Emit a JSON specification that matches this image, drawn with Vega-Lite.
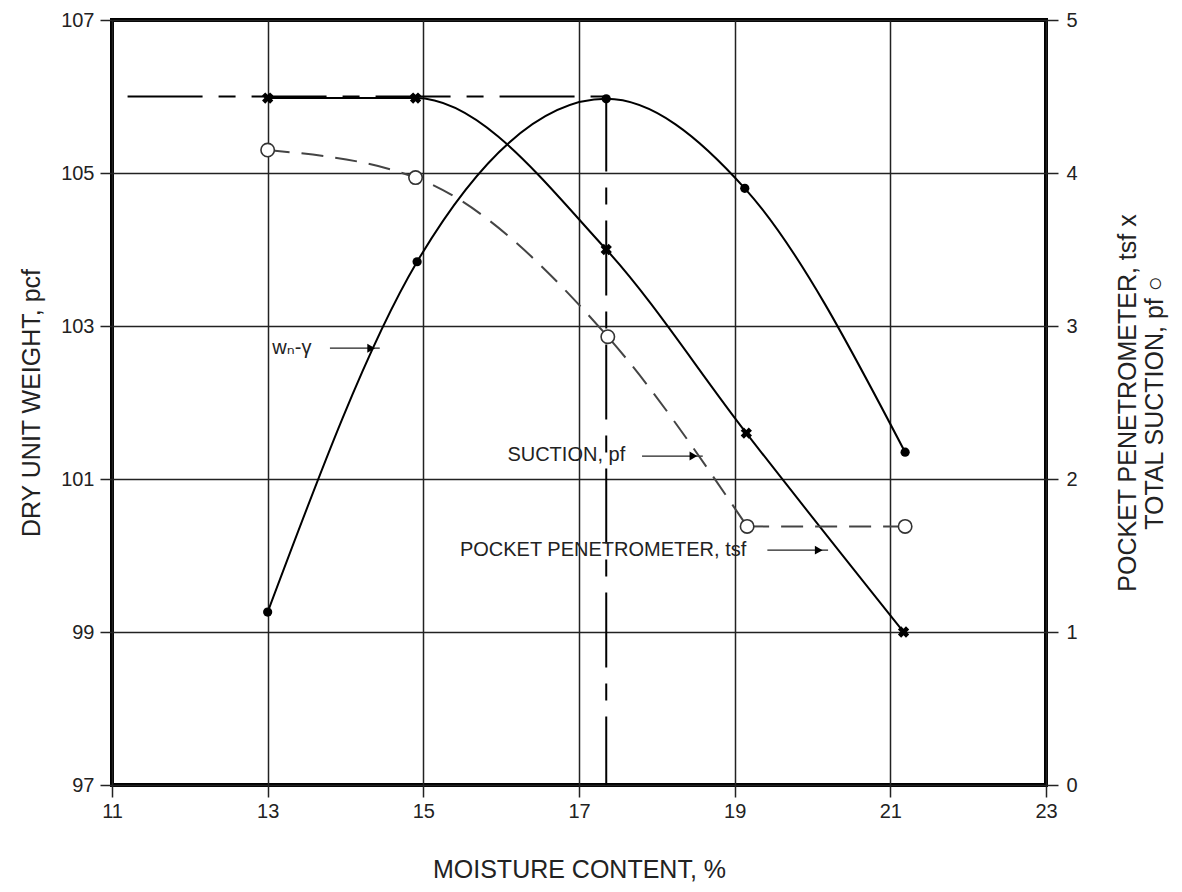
{
  "$schema": "https://vega.github.io/schema/vega-lite/v6.json",
  "width": 934,
  "height": 765,
  "autosize": {"type": "none"},
  "padding": {"left": 112, "top": 20, "right": 136, "bottom": 107},
  "background": "white",
  "config": {
    "view": {"stroke": "#000", "strokeWidth": 4},
    "font": "Liberation Sans",
    "axis": {
      "domain": false,
      "labelFont": "Liberation Sans",
      "labelFontSize": 20,
      "labelColor": "#222",
      "labelFlush": false,
      "titleFont": "Liberation Sans",
      "titleFontSize": 25,
      "titleFontWeight": "normal",
      "titleColor": "#222",
      "tickColor": "#222",
      "tickWidth": 1.5,
      "tickSize": 12,
      "gridColor": "#222",
      "gridWidth": 1.5,
      "gridOpacity": 1
    }
  },
  "datasets": {
    "wn": [
      {"moisture": 13.0, "dry": 99.26},
      {"moisture": 14.92, "dry": 103.84},
      {"moisture": 17.35, "dry": 105.97},
      {"moisture": 19.13, "dry": 104.8},
      {"moisture": 21.19, "dry": 101.35}
    ],
    "pp": [
      {"moisture": 13.0, "tsf": 4.49},
      {"moisture": 14.9, "tsf": 4.49},
      {"moisture": 17.35, "tsf": 3.5},
      {"moisture": 19.15, "tsf": 2.3},
      {"moisture": 21.17, "tsf": 1.0}
    ],
    "suction": [
      {"moisture": 13.0, "pf": 4.15},
      {"moisture": 14.9, "pf": 3.97},
      {"moisture": 17.37, "pf": 2.93},
      {"moisture": 19.16, "pf": 1.69},
      {"moisture": 21.19, "pf": 1.69}
    ],
    "refs": [
      {"moisture": 11.2, "moisture2": 17.35, "dry": 106, "dry2": 106},
      {"moisture": 17.35, "moisture2": 17.35, "dry": 106, "dry2": 97}
    ],
    "labels": [
      {"label": "wₙ-γ", "moisture": 13.06, "dry": 102.71},
      {"label": "SUCTION, pf", "moisture": 16.08, "dry": 101.31},
      {"label": "POCKET PENETROMETER, tsf", "moisture": 15.47, "dry": 100.07}
    ],
    "arrows": [
      {"moisture": 13.8, "moisture2": 14.44, "dry": 102.71, "head": 14.33},
      {"moisture": 17.81, "moisture2": 18.59, "dry": 101.3, "head": 18.47},
      {"moisture": 19.42, "moisture2": 20.2, "dry": 100.07, "head": 20.08}
    ]
  },
  "layer": [
    {
      "encoding": {
        "x": {
          "field": "moisture",
          "type": "quantitative",
          "scale": {"domain": [11, 23], "nice": false, "zero": false},
          "axis": {
            "values": [11, 13, 15, 17, 19, 21, 23],
            "title": "MOISTURE CONTENT, %",
            "grid": true,
            "labelPadding": 4,
            "titlePadding": 36
          }
        },
        "y": {
          "field": "dry",
          "type": "quantitative",
          "scale": {"domain": [97, 107], "nice": false, "zero": false},
          "axis": {
            "values": [97, 99, 101, 103, 105, 107],
            "title": "DRY UNIT WEIGHT, pcf",
            "grid": true,
            "labelPadding": 6,
            "titlePadding": 16
          }
        }
      },
      "layer": [
        {
          "data": {"name": "refs"},
          "mark": {"type": "rule", "color": "#000", "strokeWidth": 2, "strokeDash": [75, 16, 17, 16]},
          "encoding": {
            "x2": {"field": "moisture2"},
            "y2": {"field": "dry2"}
          }
        },
        {
          "data": {"name": "wn"},
          "mark": {"type": "line", "color": "#000", "strokeWidth": 2, "interpolate": "monotone"}
        },
        {
          "data": {"name": "wn"},
          "mark": {"type": "point", "shape": "circle", "filled": true, "color": "#000", "size": 85, "opacity": 1}
        },
        {
          "data": {"name": "labels"},
          "mark": {"type": "text", "align": "left", "baseline": "middle", "fontSize": 20, "color": "#222", "font": "Liberation Sans, DejaVu Sans"},
          "encoding": {"text": {"field": "label"}}
        },
        {
          "data": {"name": "arrows"},
          "mark": {"type": "rule", "color": "#222", "strokeWidth": 1.2},
          "encoding": {"x2": {"field": "moisture2"}}
        },
        {
          "data": {"name": "arrows"},
          "mark": {"type": "point", "shape": "triangle-right", "filled": true, "color": "#000", "size": 80, "opacity": 1},
          "encoding": {"x": {"field": "head", "type": "quantitative"}}
        }
      ]
    },
    {
      "encoding": {
        "x": {
          "field": "moisture",
          "type": "quantitative",
          "scale": {"domain": [11, 23], "nice": false, "zero": false},
          "axis": {
            "values": [11, 13, 15, 17, 19, 21, 23],
            "title": "MOISTURE CONTENT, %",
            "grid": true,
            "labelPadding": 4,
            "titlePadding": 36
          }
        }
      },
      "layer": [
        {
          "data": {"name": "pp"},
          "mark": {"type": "line", "color": "#000", "strokeWidth": 2, "interpolate": "monotone"},
          "encoding": {
            "y": {
              "field": "tsf",
              "type": "quantitative",
              "scale": {"domain": [0, 5], "nice": false, "zero": false},
              "axis": {
                "orient": "right",
                "values": [0, 1, 2, 3, 4, 5],
                "format": "d",
                "grid": false,
                "title": ["POCKET PENETROMETER, tsf x", "TOTAL SUCTION, pf ○"],
                "titleAngle": 270,
                "titleLineHeight": 27,
                "titlePadding": 36,
                "labelPadding": 8
              }
            }
          }
        },
        {
          "data": {"name": "pp"},
          "mark": {"type": "point", "shape": "cross", "angle": 45, "filled": true, "color": "#000", "size": 130, "opacity": 1},
          "encoding": {"y": {"field": "tsf", "type": "quantitative"}}
        },
        {
          "data": {"name": "suction"},
          "transform": [{"filter": "datum.moisture <= 19.2"}],
          "mark": {"type": "line", "color": "#444", "strokeWidth": 2, "strokeDash": [22, 12], "interpolate": "monotone"},
          "encoding": {"y": {"field": "pf", "type": "quantitative"}}
        },
        {
          "data": {"name": "suction"},
          "transform": [{"filter": "datum.moisture >= 19.1"}],
          "mark": {"type": "line", "color": "#444", "strokeWidth": 2, "strokeDash": [22, 12]},
          "encoding": {"y": {"field": "pf", "type": "quantitative"}}
        },
        {
          "data": {"name": "suction"},
          "mark": {"type": "point", "shape": "circle", "filled": false, "fill": "white", "fillOpacity": 1, "stroke": "#333", "strokeWidth": 1.6, "size": 180, "opacity": 1},
          "encoding": {"y": {"field": "pf", "type": "quantitative"}}
        }
      ]
    }
  ],
  "resolve": {"scale": {"y": "independent"}}
}
